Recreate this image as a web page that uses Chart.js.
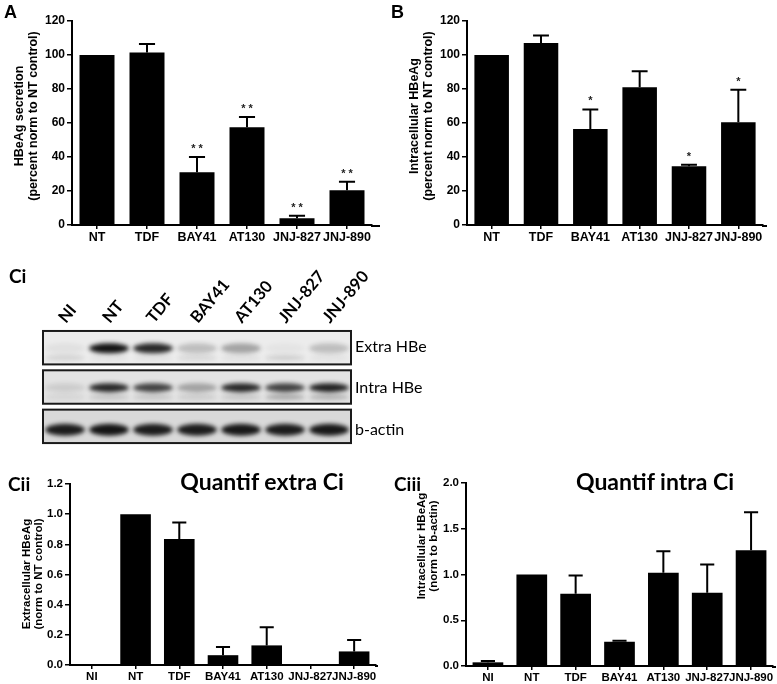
<!DOCTYPE html>
<html>
<head>
<meta charset="utf-8">
<script src="https://cdn.jsdelivr.net/npm/chart.js@4.4.1/dist/chart.umd.min.js"></script>
<style>
  body{ margin:0; background:#fff; }
  #wrap{ position:relative; width:777px; height:684px; overflow:hidden; }
  .panel{ position:absolute; }
  .lbl{ position:absolute; color:#000; line-height:1; white-space:nowrap; }
  .letter{ font:bold 18px "Liberation Sans", Arial, sans-serif; }
  .cal{ font-family: Lato, "Open Sans", sans-serif; }
</style>
</head>
<body>
<div id="wrap">
  <div class="panel" style="left:0;top:0;width:390px;height:250px"><canvas id="graficoA"></canvas></div>
  <div class="panel" style="left:390px;top:0;width:387px;height:250px"><canvas id="graficoB"></canvas></div>
  <div class="panel" style="left:0;top:255px;width:430px;height:195px"><canvas id="graficoBlot"></canvas></div>
  <div class="panel" style="left:0;top:440px;width:390px;height:244px"><canvas id="graficoCii"></canvas></div>
  <div class="panel" style="left:390px;top:440px;width:387px;height:244px"><canvas id="graficoCiii"></canvas></div>

  <div class="lbl letter" style="left:4px;top:2px">A</div>
  <div class="lbl letter" style="left:391px;top:2px">B</div>
  <div class="lbl cal" style="left:9px;top:266px;font-weight:bold;font-size:19px">Ci</div>
  <div class="lbl cal" style="left:8px;top:474px;font-weight:bold;font-size:19px">Cii</div>
  <div class="lbl cal" style="left:394px;top:474px;font-weight:bold;font-size:19px">Ciii</div>
  <div class="lbl cal" style="left:162px;top:470px;width:200px;text-align:center;font-weight:bold;font-size:23px">Quantif extra Ci</div>
  <div class="lbl cal" style="left:555px;top:470px;width:200px;text-align:center;font-weight:bold;font-size:23px">Quantif intra Ci</div>
  <div class="lbl cal" style="left:355px;top:338px;font-size:16px">Extra HBe</div>
  <div class="lbl cal" style="left:355px;top:379px;font-size:16px">Intra HBe</div>
  <div class="lbl cal" style="left:355px;top:421px;font-size:16px">b-actin</div>
</div>

<script>
// ===================================
// DATOS
// ===================================
const grupos6 = ['NT', 'TDF', 'BAY41', 'AT130', 'JNJ-827', 'JNJ-890'];
const grupos7 = ['NI', 'NT', 'TDF', 'BAY41', 'AT130', 'JNJ-827', 'JNJ-890'];

// A: HBeAg secretion (% NT)
const secrecionA = [100, 101.5, 31, 57.5, 4, 20.5];
const secrecionAErr = [null, 106.5, 40, 63.5, 5.5, 25.5];
const secrecionAStars = ['', '', '**', '**', '**', '**'];

// B: Intracellular HBeAg (% NT)
const intraB = [100, 107, 56.5, 81, 34.5, 60.5];
const intraBErr = [null, 111.5, 68, 90.5, 35.5, 79.5];
const intraBStars = ['', '', '*', '', '*', '*'];

// Cii: extracelular norm. NT
const extraCii = [0, 1.0, 0.835, 0.065, 0.13, 0, 0.09];
const extraCiiErr = [null, null, 0.945, 0.12, 0.25, null, 0.165];

// Ciii: intracelular norm. b-actin
const intraCiii = [0.04, 1.0, 0.79, 0.265, 1.02, 0.80, 1.265];
const intraCiiiErr = [0.055, null, 0.99, 0.275, 1.255, 1.11, 1.68];

// Western blot: intensidad de bandas (0-1) por carril
const extraBanda = [0.05, 0.97, 0.87, 0.2, 0.32, 0.03, 0.2];
const extraBandaBaja = [0.12, 0.05, 0.05, 0.1, 0.06, 0.14, 0.05];
const intraBanda = [0.1, 0.87, 0.75, 0.3, 0.87, 0.75, 0.9];
const intraBandaBaja = [0.08, 0.15, 0.15, 0.12, 0.15, 0.3, 0.25];
const actinaBanda = [0.92, 0.96, 0.92, 0.92, 0.94, 0.92, 0.94];

const ARIAL = '"Liberation Sans", Arial, sans-serif';

// Plugin barras de error (solo hacia arriba) + asteriscos + título eje Y
const errorBarsPlugin = {
  id: 'errorBars',
  afterDatasetsDraw(chart){
    const ds = chart.data.datasets[0];
    const y = chart.scales.y;
    const meta = chart.getDatasetMeta(0);
    const ctx = chart.ctx;
    const t = chart.options.plugins.errorBars;
    ctx.save();
    ctx.strokeStyle = '#000';
    ctx.lineWidth = 2;

    // prolongar el eje X un poco a la derecha
    if(t && t.ext){
      const a = chart.chartArea;
      ctx.beginPath();
      ctx.moveTo(a.right - 1, a.bottom + 1);
      ctx.lineTo(a.right + t.ext, a.bottom + 1);
      ctx.stroke();
    }

    meta.data.forEach((bar, i) => {
      const top = ds.errorTop[i];
      let yTop = bar.y;
      if(top != null){
        yTop = y.getPixelForValue(top);
        const half = bar.width * 0.23;
        ctx.beginPath();
        ctx.moveTo(bar.x, bar.y);
        ctx.lineTo(bar.x, yTop);
        ctx.moveTo(bar.x - half, yTop);
        ctx.lineTo(bar.x + half, yTop);
        ctx.stroke();
      }
      const s = ds.stars ? ds.stars[i] : '';
      if(s){
        ctx.fillStyle = '#222';
        ctx.font = 'bold 11px ' + ARIAL;
        ctx.textAlign = 'center';
        ctx.textBaseline = 'middle';
        ctx.fillText(s.split('').join(' '), bar.x, yTop - 8);
      }
    });

    // título del eje Y (dos líneas, rotado)
    if(t && t.lineas){
      ctx.fillStyle = '#000';
      ctx.font = 'bold ' + t.size + 'px ' + ARIAL;
      ctx.textAlign = 'center';
      ctx.textBaseline = 'middle';
      t.lineas.forEach((txt, k) => {
        ctx.save();
        ctx.translate(t.x[k], t.yc);
        ctx.rotate(-Math.PI / 2);
        ctx.fillText(txt, 0, 0);
        ctx.restore();
      });
    }
    ctx.restore();
  }
};

function graficoBarras(id, labels, valores, errores, stars, c){
  const ctx = document.getElementById(id).getContext('2d');
  return new Chart(ctx, {
    type: 'bar',
    data: {
      labels: labels,
      datasets: [{
        data: valores,
        errorTop: errores,
        stars: stars,
        backgroundColor: '#000',
        borderWidth: 0,
        barPercentage: 0.7,
        categoryPercentage: 1.0
      }]
    },
    options: {
      responsive: true,
      maintainAspectRatio: false,
      animation: false,
      layout: { autoPadding: false, padding: { top: c.padTop, bottom: c.padBottom, left: 0, right: c.padRight } },
      plugins: {
        legend: { display: false },
        tooltip: { enabled: false },
        errorBars: { lineas: c.titulo, size: c.tFont, x: c.tX, yc: c.tY, ext: c.ext }
      },
      scales: {
        x: {
          afterFit: s => { s.height = c.xH; },
          grid: { display: true, offset: false, drawOnChartArea: false, drawTicks: true, tickLength: 4, color: '#000', lineWidth: 1.5 },
          border: { color: '#000', width: 2 },
          ticks: { color: '#000', font: { family: ARIAL, size: c.xFont, weight: 'bold' }, padding: 1, maxRotation: 0, autoSkip: false }
        },
        y: {
          min: 0, max: c.yMax,
          afterFit: s => { s.width = c.axisW; },
          grid: { display: true, drawOnChartArea: false, drawTicks: true, tickLength: 5, color: '#000', lineWidth: 1.5 },
          border: { color: '#000', width: 2 },
          ticks: {
            stepSize: c.yStep, color: '#000', padding: 2,
            font: { family: ARIAL, size: c.yFont, weight: 'bold' },
            callback: v => Number(v).toFixed(c.dec)
          }
        }
      }
    },
    plugins: [errorBarsPlugin]
  });
}

graficoBarras('graficoA', grupos6, secrecionA, secrecionAErr, secrecionAStars, {
  yMax: 120, yStep: 20, dec: 0, axisW: 72, xH: 20, padTop: 21, padBottom: 5, padRight: 18, ext: 8,
  xFont: 12.5, yFont: 12, tFont: 12.5, tX: [20, 33.5], tY: 116,
  titulo: ['HBeAg secretion', '(percent norm to NT control)']
});

graficoBarras('graficoB', grupos6, intraB, intraBErr, intraBStars, {
  yMax: 120, yStep: 20, dec: 0, axisW: 77, xH: 20, padTop: 21, padBottom: 5, padRight: 14, ext: 4,
  xFont: 12.5, yFont: 12, tFont: 12.5, tX: [25, 38.5], tY: 116,
  titulo: ['Intracellular HBeAg', '(percent norm to NT control)']
});

graficoBarras('graficoCii', grupos7, extraCii, extraCiiErr, null, {
  yMax: 1.2, yStep: 0.2, dec: 1, axisW: 70, xH: 19, padTop: 44, padBottom: 0, padRight: 14, ext: 2,
  xFont: 11.5, yFont: 11.5, tFont: 11.5, tX: [27, 39], tY: 134,
  titulo: ['Extracellular HBeAg', '(norm to NT control)']
});

graficoBarras('graficoCiii', grupos7, intraCiii, intraCiiiErr, null, {
  yMax: 2.0, yStep: 0.5, dec: 1, axisW: 76, xH: 18, padTop: 43, padBottom: 0, padRight: 4, ext: 3,
  xFont: 11.5, yFont: 11.5, tFont: 11.5, tX: [32, 44], tY: 106,
  titulo: ['Intracellular HBeAg', '(norm to b-actin)']
});

// ===================================
// WESTERN BLOT (Ci)
// ===================================
const blotPlugin = {
  id: 'blot',
  beforeDatasetsDraw(chart){
    const ctx = chart.ctx;
    const xs = chart.scales.x, ys = chart.scales.y;
    const area = chart.chartArea;
    const filas = [
      { fondo: '#ececec', bandas: [[extraBanda, 0.52, 10], [extraBandaBaja, 0.8, 5]] },
      { fondo: '#e3e3e3', bandas: [[intraBanda, 0.52, 9], [intraBandaBaja, 0.8, 5]] },
      { fondo: '#d9d9d9', bandas: [[actinaBanda, 0.6, 12]] }
    ];
    const ancho = xs.getPixelForValue(1) - xs.getPixelForValue(0);
    filas.forEach((f, r) => {
      const y0 = ys.getPixelForValue(r + 0.05);
      const y1 = ys.getPixelForValue(r + 0.9);
      ctx.save();
      ctx.fillStyle = f.fondo;
      ctx.fillRect(area.left, y0, area.right - area.left, y1 - y0);
      ctx.beginPath();
      ctx.rect(area.left, y0, area.right - area.left, y1 - y0);
      ctx.clip();
      ctx.filter = 'blur(2px)';
      f.bandas.forEach(([vals, pos, alto]) => {
        const yc = y0 + (y1 - y0) * pos;
        vals.forEach((v, i) => {
          const xc = xs.getPixelForValue(i);
          ctx.fillStyle = 'rgba(12,12,12,' + v + ')';
          ctx.beginPath();
          ctx.ellipse(xc, yc, ancho * 0.45, alto / 2, 0, 0, Math.PI * 2);
          ctx.fill();
        });
      });
      ctx.restore();
      ctx.save();
      ctx.strokeStyle = '#1a1a1a';
      ctx.lineWidth = 2;
      ctx.strokeRect(area.left, y0, area.right - area.left, y1 - y0);
      ctx.restore();
    });
  }
};

new Chart(document.getElementById('graficoBlot').getContext('2d'), {
  type: 'bar',
  data: { labels: grupos7, datasets: [{ data: [] }] },
  options: {
    responsive: true,
    maintainAspectRatio: false,
    animation: false,
    layout: { autoPadding: false, padding: { top: 0, bottom: 3, left: 43, right: 79 } },
    plugins: { legend: { display: false }, tooltip: { enabled: false } },
    scales: {
      x: {
        position: 'top',
        afterFit: s => { s.height = 74; },
        grid: { display: false },
        border: { display: false },
        ticks: {
          color: '#000', padding: -6, labelOffset: 12, autoSkip: false, minRotation: 50, maxRotation: 50,
          font: { family: 'Lato, "Open Sans", sans-serif', size: 16.5, weight: 'bold' }
        }
      },
      y: { display: false, min: 0, max: 3, reverse: true }
    }
  },
  plugins: [blotPlugin]
});
</script>
</body>
</html>
